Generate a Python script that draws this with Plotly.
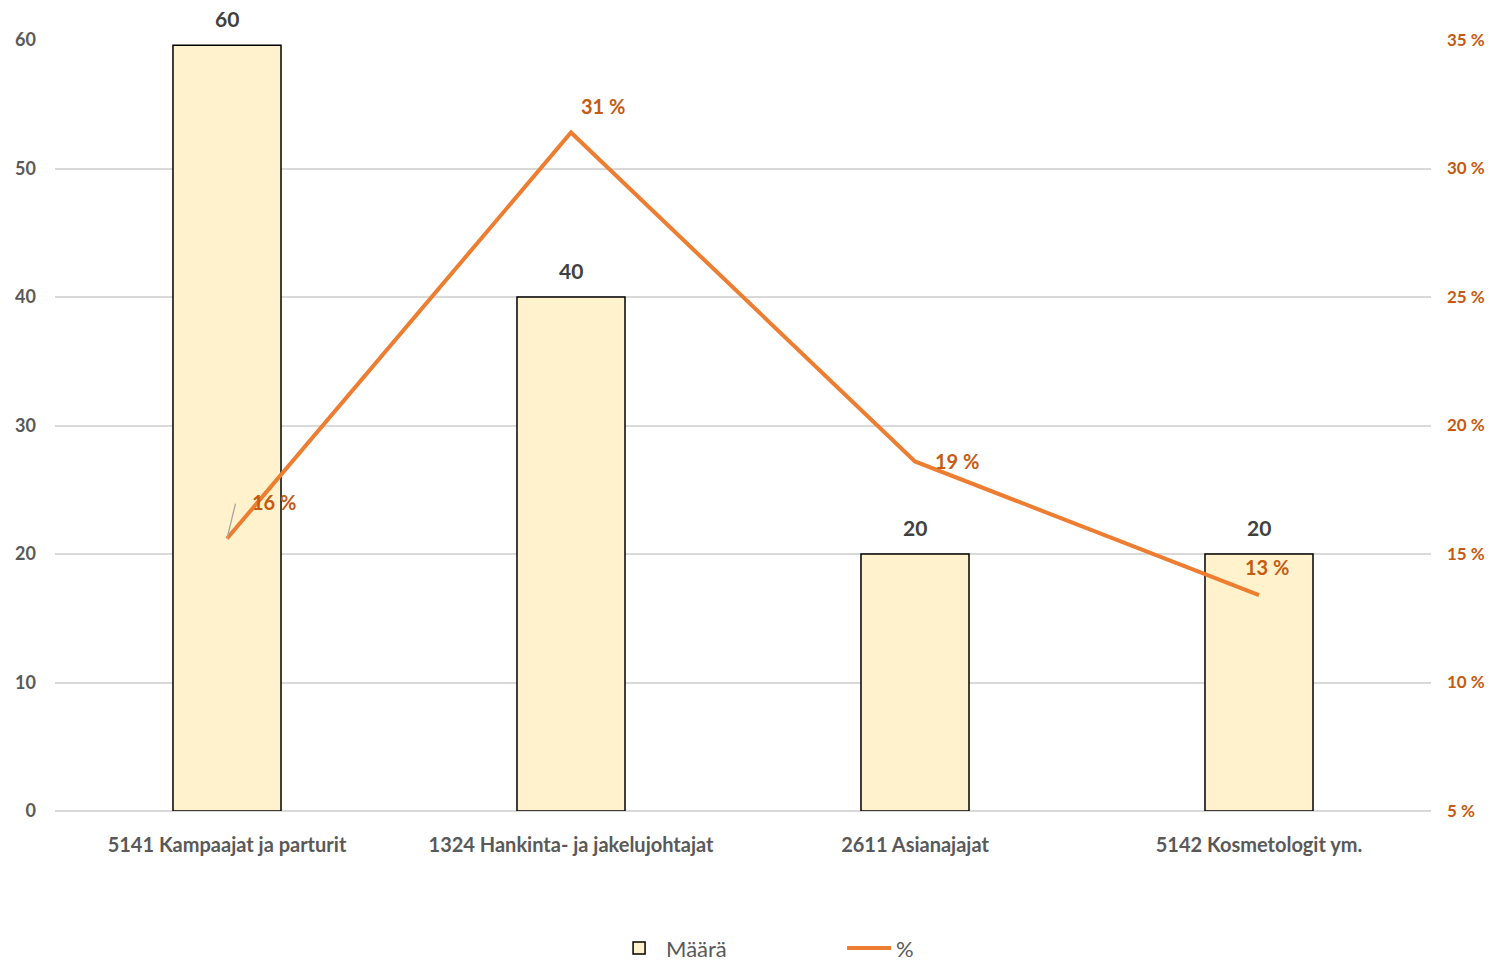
import plotly.graph_objects as go

categories = ["5141 Kampaajat ja parturit", "1324 Hankinta- ja jakelujohtajat",
              "2611 Asianajajat", "5142 Kosmetologit ym."]
maara = [59.6, 40, 20, 20]
pros = [15.6, 31.4, 18.6, 13.4]
# label offsets (px) for the % labels
lbl_dx = [47, 32, 42, 8]
lbl_dy = [37, 27, 0, 28]

FONT = "Lato, Carlito, Liberation Sans, sans-serif"
GREY = "#595959"
ORANGE = "#ED7D31"
DARK_OR = "#C55A11"

fig = go.Figure()
fig.add_trace(go.Bar(x=categories, y=maara, name="Määrä",
                     marker=dict(color="#FFF2CC", line=dict(color="#000000", width=1.5))))
fig.add_trace(go.Scatter(x=categories, y=pros, name="%", yaxis="y2", mode="lines",
                         line=dict(color=ORANGE, width=4)))

# bar value labels
for c, v in zip(categories, maara):
    fig.add_annotation(x=c, y=v, text=f"{v:.0f}", showarrow=False, yanchor="bottom",
                       yshift=12, font=dict(family=FONT, size=21, color="#404040", weight="bold"))

# leader line for the first % label
fig.add_annotation(x=categories[0], y=pros[0], yref="y2", text=" ", showarrow=True,
                   arrowhead=0, arrowcolor="#A6A6A6", arrowwidth=1.3, standoff=0,
                   ax=9, ay=-lbl_dy[0], font=dict(size=1))

# % labels
for i, c in enumerate(categories):
    fig.add_annotation(x=c, y=pros[i], yref="y2", text=f"{round(pros[i])} %", showarrow=False,
                       xshift=lbl_dx[i], yshift=lbl_dy[i],
                       font=dict(family=FONT, size=20, color=DARK_OR, weight="bold"))

fig.update_layout(
    width=1491, height=961,
    margin=dict(l=55, r=60, t=40, b=150, autoexpand=False),
    plot_bgcolor="white", paper_bgcolor="white",
    bargap=0.686,
    font=dict(family=FONT),
    xaxis=dict(tickfont=dict(family=FONT, size=20, color=GREY, weight="bold"),
               showline=False, ticks="", ticklabelstandoff=20, automargin=False),
    yaxis=dict(range=[0, 60], dtick=10, gridcolor="#D9D9D9", gridwidth=1.5,
               zeroline=True, zerolinecolor="#D9D9D9", zerolinewidth=1.5,
               tickfont=dict(family=FONT, size=18, color=GREY, weight="bold"),
               ticklabelstandoff=18, automargin=False),
    yaxis2=dict(range=[5, 35], dtick=5, overlaying="y", side="right",
                showgrid=False, zeroline=False, ticksuffix=" %",
                tickfont=dict(family=FONT, size=17, color=DARK_OR, weight="bold"),
                ticklabelstandoff=15, automargin=False),
    legend=dict(orientation="h", x=0.572, xanchor="center", y=-0.178, yanchor="middle",
                font=dict(family=FONT, size=22, color=GREY),
                itemwidth=44, entrywidth=171),
    showlegend=True,
)

fig.write_html("out.html", config={"displayModeBar": False},
               post_script="document.body.style.margin='0';")
